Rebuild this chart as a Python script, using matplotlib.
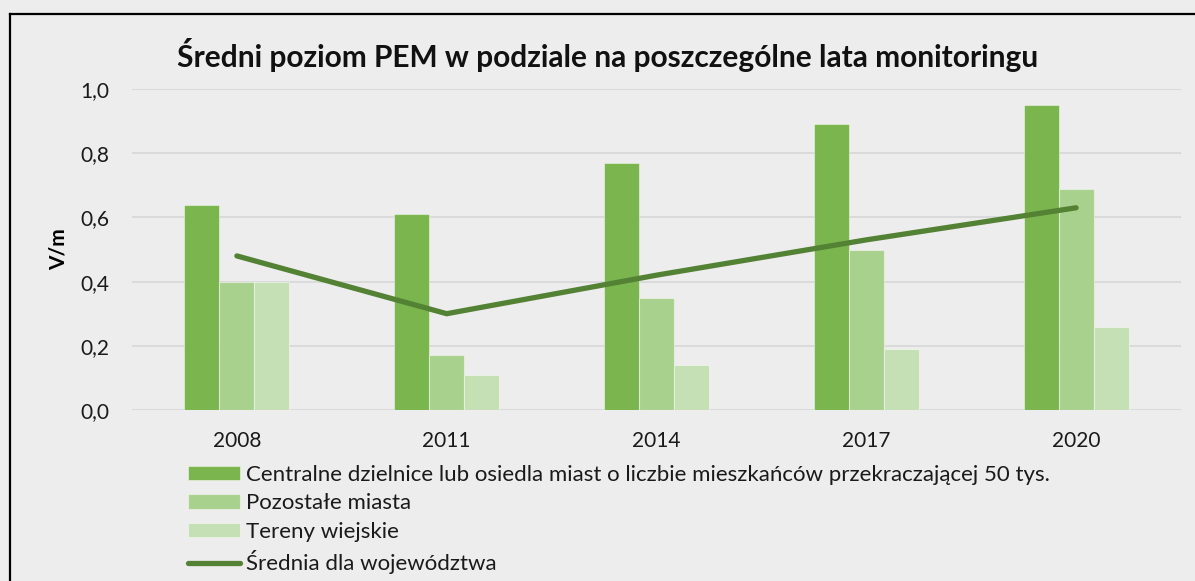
import numpy as np
import matplotlib.pyplot as plt
from matplotlib.ticker import FuncFormatter
from matplotlib.lines import Line2D

plt.rcParams['font.family'] = ['Lato', 'DejaVu Sans']

# data
years = ["2008", "2011", "2014", "2017", "2020"]
centralne = [0.64, 0.61, 0.77, 0.89, 0.95]
pozostale = [0.40, 0.17, 0.35, 0.50, 0.69]
wiejskie = [0.40, 0.11, 0.14, 0.19, 0.26]
srednia = [0.48, 0.30, 0.42, 0.53, 0.63]

labels = [
    "Centralne dzielnice lub osiedla miast o liczbie mieszkańców przekraczającej 50 tys.",
    "Pozostałe miasta",
    "Tereny wiejskie",
    "Średnia dla województwa",
]
colors = ["#7ab54d", "#a9d18e", "#c5e0b4"]
line_color = "#548235"
bg = "#ededed"

fig = plt.figure(figsize=(11.95, 5.81), dpi=100, facecolor=bg)
ax = fig.add_axes([132 / 1195, 1 - 410 / 581, (1181 - 132) / 1195, (410 - 89) / 581])
ax.set_facecolor(bg)

x = np.arange(len(years))
w = 1 / 6
edge = (1, 1, 1, 0.45)
b1 = ax.bar(x - w, centralne, w, color=colors[0], edgecolor=edge, linewidth=0.8, zorder=2)
b2 = ax.bar(x, pozostale, w, color=colors[1], edgecolor=edge, linewidth=0.8, zorder=2)
b3 = ax.bar(x + w, wiejskie, w, color=colors[2], edgecolor=edge, linewidth=0.8, zorder=2)
ln, = ax.plot(x, srednia, color=line_color, linewidth=3.8, solid_capstyle="round",
              solid_joinstyle="miter", zorder=3)

ax.set_xlim(-0.5, len(years) - 0.5)
ax.set_ylim(0, 1.0)
ax.set_yticks(np.arange(0, 1.01, 0.2))
ax.yaxis.set_major_formatter(FuncFormatter(lambda v, p: f"{v:.1f}".replace(".", ",")))
ax.set_xticks(x)
ax.set_xticklabels(years)
ax.tick_params(length=0, labelsize=15, colors="#1a1a1a")
ax.tick_params(axis="y", pad=16.5)
ax.tick_params(axis="x", pad=15)
ax.grid(axis="y", color="#d9d9d9", linewidth=1.3, zorder=0)
for s in ax.spines.values():
    s.set_visible(False)

ax.set_ylabel("V/m", fontsize=15, fontweight="bold", labelpad=8)

fig.text(608 / 1195, 1 - 55 / 581,
         "Średni poziom PEM w podziale na poszczególne lata monitoringu",
         ha="center", va="center", fontsize=21.5, fontweight="bold", color="#111111")

handles = [b1, b2, b3, Line2D([0], [0], color=line_color, linewidth=3.8, solid_capstyle="round")]
leg = fig.legend(handles, labels, loc="upper left", bbox_to_anchor=(188 / 1195, 1 - 465 / 581),
                 frameon=False, fontsize=16, handlelength=2.35, handleheight=0.63,
                 handletextpad=0.27, labelspacing=0.38, borderaxespad=0, borderpad=0)
for t in leg.get_texts():
    t.set_color("#1a1a1a")

# frame lines (left and top)
fig.add_artist(Line2D([9.5 / 1195, 9.5 / 1195], [0, 1 - 13.5 / 581], color="black", linewidth=1.6,
                      transform=fig.transFigure))
fig.add_artist(Line2D([9.5 / 1195, 1], [1 - 13.5 / 581, 1 - 13.5 / 581], color="black", linewidth=1.6,
                      transform=fig.transFigure))

fig.savefig("out.png", dpi=100, facecolor=bg)
